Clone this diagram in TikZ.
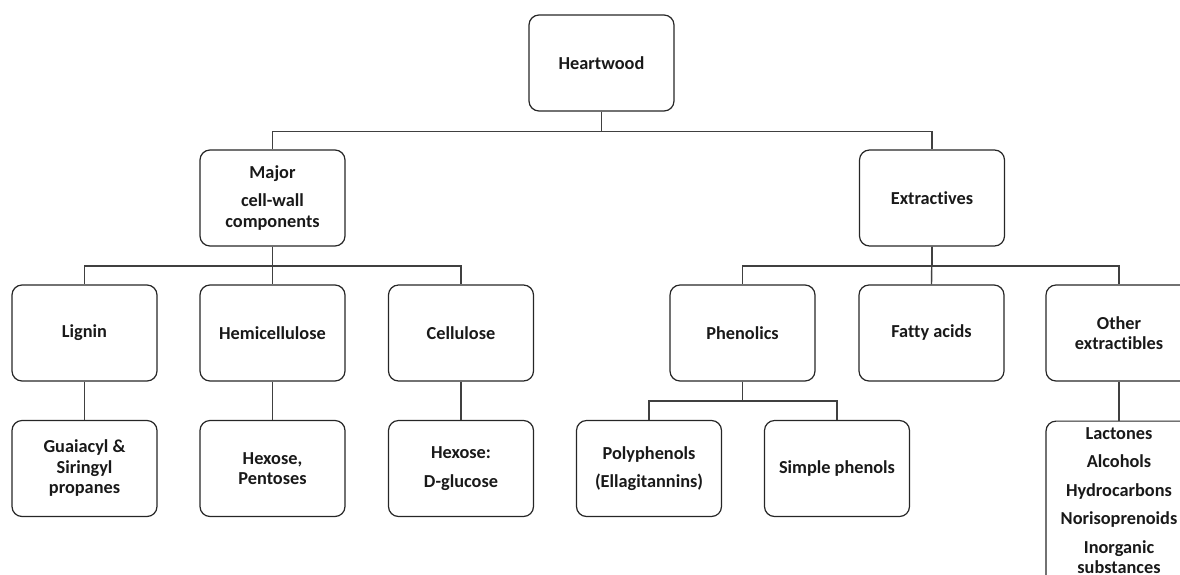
\documentclass[tikz,border=0pt]{standalone}
\usepackage{fontspec}
\setmainfont{Carlito}[Ligatures=NoCommon]
\tikzset{
  box/.style={draw=black!85, line width=1.2pt, rounded corners=10pt,
    minimum width=145pt, minimum height=96pt, inner sep=0pt},
  txt/.style={align=center, inner sep=0pt, text=black!90,
    font=\bfseries\fontsize{18.3}{20.5}\selectfont},
  conn/.style={draw=black!75, line width=1.4pt},
}
\begin{document}
\begin{tikzpicture}[x=1pt,y=-1pt]
\useasboundingbox (0,0) rectangle (1180,574);
% level 0
\node[box,txt] (H) at (601.5,63) {Heartwood};
% level 1
\node[box,txt] (M) at (272.5,198) {Major\\[8pt]cell-wall\\components};
\node[box,txt] (E) at (932,198) {Extractives};
% level 2
\node[box,txt] (L) at (84.5,333) {Lignin};
\node[box,txt] (Hm) at (272.5,333) {Hemicellulose};
\node[box,txt] (C) at (461,333) {Cellulose};
\node[box,txt] (P) at (742.5,333) {Phenolics};
\node[box,txt] (F) at (931.5,333) {Fatty acids};
\node[box,txt,minimum width=146pt] (O) at (1119,333) {Other\\extractibles};
% level 3
\node[box,txt] (G) at (84.5,468.5) {Guaiacyl \&\\Siringyl\\propanes};
\node[box,txt] (HP) at (272.5,468.5) {Hexose,\\Pentoses};
\node[box,txt] (HD) at (461,468.5) {Hexose:\\[8pt]D-glucose};
\node[box,txt] (Po) at (649,468.5) {Polyphenols\\[8pt](Ellagitannins)};
\node[box,txt] (S) at (837,468.5) {Simple phenols};
\node[box,minimum width=146pt,minimum height=200pt,anchor=north] (X) at (1119,420.5) {};
\node[txt,anchor=north] (Xt) at (1119,427) {Lactones\\[8pt]Alcohols\\[8pt]Hydrocarbons\\[8pt]Norisoprenoids\\[8pt]Inorganic\\substances};
% connectors
\draw[conn] (H.south) -- ++(0,20) -| (M.north);
\draw[conn] (H.south) -- ++(0,20) -| (E.north);
\draw[conn] (M.south) -- ++(0,19.5) -| (L.north);
\draw[conn] (M.south) -- (Hm.north);
\draw[conn] (M.south) -- ++(0,19.5) -| (C.north);
\draw[conn] (E.south) -- ++(0,19.5) -| (P.north);
\draw[conn] (E.south) -- (F.north);
\draw[conn] (E.south) -- ++(0,19.5) -| (O.north);
\draw[conn] (L.south) -- (G.north);
\draw[conn] (Hm.south) -- (HP.north);
\draw[conn] (C.south) -- (HD.north);
\draw[conn] (P.south) -- ++(0,19.5) -| (Po.north);
\draw[conn] (P.south) -- ++(0,19.5) -| (S.north);
\draw[conn] (O.south) -- (X.north);
\end{tikzpicture}
\end{document}
